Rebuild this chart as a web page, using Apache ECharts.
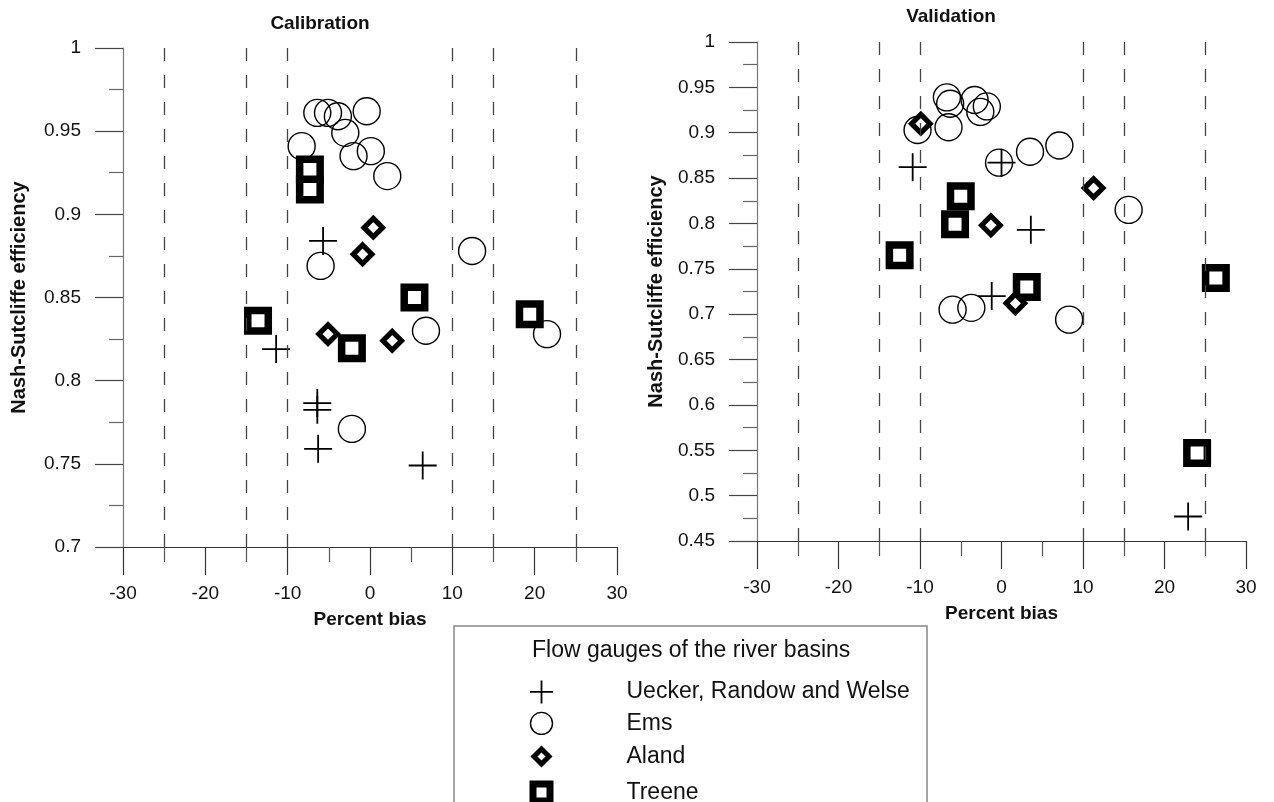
<!DOCTYPE html>
<html>
<head>
<meta charset="utf-8">
<script src="https://cdn.jsdelivr.net/npm/echarts@6/dist/echarts.min.js"></script>
<style>
  html, body { margin: 0; padding: 0; background: #fff; }
  #chart { width: 1274px; height: 802px; }
</style>
</head>
<body>
<div id="chart"></div>
<script>
// Nash-Sutcliffe efficiency vs percent bias, per flow gauge group
const gaugeNames = ['Uecker, Randow and Welse', 'Ems', 'Aland', 'Treene'];

// Calibration period: [percent bias, NSE]
const calUecker = [[-5.7, 0.884], [-11.4, 0.819], [-6.4, 0.7865], [-6.4, 0.7825], [-6.3, 0.759], [6.4, 0.749]];
const calEms = [[-6.4, 0.961], [-5.1, 0.961], [-3.9, 0.959], [-0.4, 0.962], [-3.0, 0.949], [-8.3, 0.941],
  [-2.0, 0.935], [0.1, 0.938], [2.1, 0.923], [-6.0, 0.869], [12.4, 0.878], [6.8, 0.830], [21.5, 0.828], [-2.2, 0.771]];
const calAland = [[0.4, 0.892], [-0.9, 0.876], [-5.1, 0.828], [2.7, 0.824]];
const calTreene = [[-7.3, 0.927], [-7.3, 0.915], [5.4, 0.850], [-13.6, 0.836], [-2.2, 0.8195], [19.4, 0.840]];

// Validation period: [percent bias, NSE]
const valUecker = [[-10.9, 0.862], [0.0, 0.867], [3.6, 0.793], [-1.2, 0.720], [22.9, 0.477]];
const valEms = [[-6.7, 0.939], [-6.3, 0.932], [-3.3, 0.936], [-1.8, 0.929], [-2.6, 0.923], [-6.5, 0.906],
  [-10.3, 0.903], [-0.3, 0.867], [3.5, 0.879], [7.1, 0.886], [15.6, 0.815], [-6.0, 0.705], [-3.7, 0.707], [8.3, 0.694]];
const valAland = [[-9.9, 0.910], [-1.3, 0.798], [11.3, 0.839], [1.7, 0.712]];
const valTreene = [[-5.0, 0.830], [-5.7, 0.799], [-12.5, 0.765], [3.1, 0.730], [26.3, 0.740], [24.0, 0.547]];

// Reference bias bands drawn as dashed verticals
const biasBands = [-25, -15, -10, 10, 15, 25];

const FONT = 'Liberation Sans, Arial, Helvetica, sans-serif';
const INK = '#111';

const plusPath = 'path://M10,0V20M0,10H20';

const styles = {
  'Uecker, Randow and Welse': { symbol: plusPath, symbolSize: 28, itemStyle: { color: 'transparent', borderColor: '#000', borderWidth: 1.8, opacity: 1 } },
  'Ems': { symbol: 'circle', symbolSize: 27, itemStyle: { color: 'transparent', borderColor: '#000', borderWidth: 1.4, opacity: 1 } },
  'Aland': { symbol: 'diamond', symbolSize: 18.5, itemStyle: { color: '#fff', borderColor: '#000', borderWidth: 5.2, borderJoin: 'miter', opacity: 1 } },
  'Treene': { symbol: 'rect', symbolSize: 20.5, itemStyle: { color: '#fff', borderColor: '#000', borderWidth: 7.5, borderJoin: 'miter', opacity: 1 } }
};

function scatter(name, data, idx, withBands) {
  const s = Object.assign({
    type: 'scatter', name: name, data: data,
    xAxisIndex: idx, yAxisIndex: idx,
    silent: true, z: 3
  }, styles[name]);
  if (withBands) {
    s.markLine = {
      silent: true, symbol: 'none', label: { show: false },
      lineStyle: { type: [13, 14], color: '#444', width: 1.3, opacity: 1 },
      data: biasBands.map(v => ({ xAxis: v }))
    };
  }
  return s;
}

function xAxis(idx) {
  return {
    gridIndex: idx, type: 'value', min: -30, max: 30, interval: 10,
    axisLine: { show: true, onZero: false, lineStyle: { color: '#333', width: 1.2 } },
    axisTick: { show: true, length: 28, lineStyle: { color: '#333', width: 1.2 } },
    minorTick: { show: true, splitNumber: 2, length: 15, lineStyle: { color: '#555', width: 1.2 } },
    axisLabel: { margin: 37, fontSize: 19, color: INK, fontFamily: FONT },
    splitLine: { show: false },
    name: 'Percent bias', nameLocation: 'middle', nameGap: 63,
    nameTextStyle: { fontSize: 19, fontWeight: 'bold', color: INK, fontFamily: FONT }
  };
}

function yAxis(idx, min, gap) {
  return {
    gridIndex: idx, type: 'value', min: min, max: 1, interval: 0.05,
    axisLine: { show: true, onZero: false, lineStyle: { color: '#777', width: 1.2 } },
    axisTick: { show: true, length: 28, lineStyle: { color: '#444', width: 1.2 } },
    minorTick: { show: true, splitNumber: 2, length: 14, lineStyle: { color: '#666', width: 1.2 } },
    axisLabel: { margin: 42, fontSize: 19, color: INK, fontFamily: FONT },
    splitLine: { show: false },
    name: 'Nash-Sutcliffe efficiency', nameLocation: 'middle', nameRotate: 90, nameGap: gap,
    nameTextStyle: { fontSize: 20, fontWeight: 'bold', color: INK, fontFamily: FONT }
  };
}

// Legend icons sized inside a fixed 24x24 box
const legendIcons = {
  'Uecker, Randow and Welse': { icon: 'path://M0,0M24,24M12,0.5V23.5M0.5,12H23.5', itemStyle: { color: 'transparent', borderColor: '#000', borderWidth: 1.8, opacity: 1 } },
  'Ems': { icon: 'path://M0,0M24,24M12,1A11,11 0 1 1 11.99,1Z', itemStyle: { color: 'transparent', borderColor: '#000', borderWidth: 1.4, opacity: 1 } },
  'Aland': { icon: 'path://M0,0M24,24M12,4.5L19.5,12L12,19.5L4.5,12Z', itemStyle: { color: '#fff', borderColor: '#000', borderWidth: 5, opacity: 1 } },
  'Treene': { icon: 'path://M0,0M24,24M3.5,3.5H20.5V20.5H3.5Z', itemStyle: { color: '#fff', borderColor: '#000', borderWidth: 7, opacity: 1 } }
};

const chart = echarts.init(document.getElementById('chart'), null, { renderer: 'canvas' });

chart.setOption({
  animation: false,
  backgroundColor: '#fff',
  textStyle: { fontFamily: FONT },
  title: [
    { text: 'Calibration', left: 315, top: 9, textAlign: 'center',
      textStyle: { fontSize: 19, fontWeight: 'bold', color: INK, fontFamily: FONT } },
    { text: 'Validation', left: 946, top: 2, textAlign: 'center',
      textStyle: { fontSize: 19, fontWeight: 'bold', color: INK, fontFamily: FONT } }
  ],
  grid: [
    { left: 123, top: 48, width: 494, height: 499 },
    { left: 757, top: 42, width: 489, height: 499 }
  ],
  xAxis: [xAxis(0), xAxis(1)],
  yAxis: [yAxis(0, 0.7, 94), yAxis(1, 0.45, 91)],
  legend: {
    orient: 'vertical', left: 526, top: 679, padding: 0,
    itemWidth: 24, itemHeight: 24, itemGap: 5.9,
    height: 170,
    selectedMode: false,
    data: gaugeNames.map(n => Object.assign({ name: n }, legendIcons[n])),
    formatter: n => '{g|}{t|' + n + '}',
    textStyle: {
      rich: {
        g: { width: 68 },
        t: { fontSize: 23, color: INK, fontFamily: FONT }
      }
    }
  },
  graphic: [
    { type: 'rect', shape: { x: 454, y: 626, width: 473, height: 220 },
      style: { fill: 'none', stroke: '#888', lineWidth: 1.5 }, silent: true },
    { type: 'text', x: 532, y: 651,
      style: { text: 'Flow gauges of the river basins', fontSize: 23, fill: INK, fontFamily: FONT, verticalAlign: 'middle' },
      silent: true }
  ],
  series: [
    scatter('Ems', calEms, 0, true),
    scatter('Treene', calTreene, 0, false),
    scatter('Aland', calAland, 0, false),
    scatter('Uecker, Randow and Welse', calUecker, 0, false),
    scatter('Ems', valEms, 1, true),
    scatter('Treene', valTreene, 1, false),
    scatter('Aland', valAland, 1, false),
    scatter('Uecker, Randow and Welse', valUecker, 1, false)
  ]
});
</script>
</body>
</html>
